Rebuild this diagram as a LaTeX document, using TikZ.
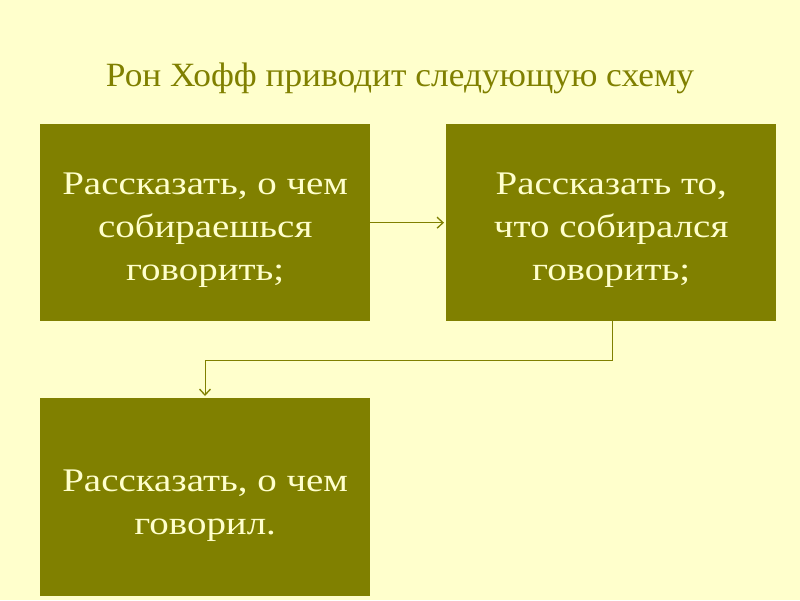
\documentclass[tikz,border=0pt]{standalone}
\usepackage{fontspec}
\setmainfont{Liberation Serif}
\newfontfamily\boxfont[FakeStretch=1.18]{Liberation Serif}
\newfontfamily\titlefont[FakeStretch=1.04]{Liberation Serif}
\usetikzlibrary{arrows.meta}
\definecolor{bg}{HTML}{FFFFCC}
\definecolor{olive}{HTML}{808000}
\definecolor{boxtext}{HTML}{FFFFCC}
\definecolor{titlec}{HTML}{808000}
\tikzset{
  box/.style={fill=olive, draw=none, minimum width=330pt, minimum height=197pt, inner sep=0pt, anchor=north west},
  boxlabel/.style={text=boxtext, align=center, inner sep=0pt, font=\boxfont\fontsize{33pt}{43pt}\selectfont},
  conn/.style={draw=olive, line width=1pt, shorten >=2pt, -{Straight Barb[length=6pt,width=11pt,line width=1.3pt]}}
}
\begin{document}
\begin{tikzpicture}[x=1pt,y=-1pt]
\fill[bg] (0,0) rectangle (800,600);
\useasboundingbox (0,0) rectangle (800,600);
\node[text=titlec, anchor=base, font=\titlefont\fontsize{34pt}{40pt}\selectfont] (title) at (400,86) {Рон Хофф приводит следующую схему};
\node[box] (b1) at (40,124) {};
\node[box] (b2) at (446,124) {};
\node[box, minimum height=198pt] (b3) at (40,398) {};
\node[boxlabel] (t1) at ([yshift=-8pt]b1.center) {Рассказать, о чем\\собираешься\\говорить;};
\node[boxlabel] (t2) at ([yshift=-8pt]b2.center) {Рассказать то,\\что собирался\\говорить;};
\node[boxlabel] (t3) at ([yshift=-8pt]b3.center) {Рассказать, о чем\\говорил.};
\draw[conn] (b1.east) -- (b2.west);
\coordinate (c1) at (612,360);
\coordinate (c2) at (205,360);
\draw[conn] (b2.south -| c1) -- (c1) -- (c2) -- (b3.north -| c2);
\end{tikzpicture}
\end{document}
